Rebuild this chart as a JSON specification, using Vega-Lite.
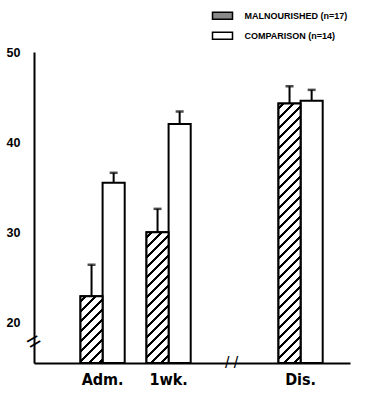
{
  "$schema": "https://vega.github.io/schema/vega-lite/v6.json",
  "autosize": {"type": "none"},
  "padding": {"left": 34, "top": 52, "right": 21, "bottom": 38},
  "width": 316,
  "height": 311,
  "background": "white",
  "config": {
    "view": {"stroke": null},
    "axis": {"grid": false, "ticks": false, "domainColor": "black", "domainWidth": 2, "title": null, "labelColor": "black"}
  },
  "datasets": {
    "bars": [
      {"time": "Adm.", "group": "MALNOURISHED (n=17)", "mean": 22.9, "upper": 26.4},
      {"time": "Adm.", "group": "COMPARISON (n=14)", "mean": 35.5, "upper": 36.6},
      {"time": "1wk.", "group": "MALNOURISHED (n=17)", "mean": 30.0, "upper": 32.6},
      {"time": "1wk.", "group": "COMPARISON (n=14)", "mean": 42.0, "upper": 43.4},
      {"time": "Dis.", "group": "MALNOURISHED (n=17)", "mean": 44.3, "upper": 46.2},
      {"time": "Dis.", "group": "COMPARISON (n=14)", "mean": 44.6, "upper": 45.8}
    ]
  },
  "layer": [
    {
      "data": {"name": "bars"},
      "mark": {"type": "bar", "stroke": "black", "strokeWidth": 2},
      "encoding": {
        "x": {
          "field": "time", "type": "nominal",
          "scale": {"domain": ["Adm.", "1wk.", "gap", "Dis."], "paddingInner": 0.33, "paddingOuter": 0.559, "align": 0.63, "round": false},
          "axis": {"labelAngle": 0, "labelExpr": "datum.value == 'gap' ? '' : datum.value", "labelFont": "DejaVu Sans Condensed, Liberation Sans", "labelFontWeight": "bold", "labelFontSize": 16, "labelPadding": 8}
        },
        "xOffset": {"field": "group", "type": "nominal", "scale": {"domain": ["MALNOURISHED (n=17)", "COMPARISON (n=14)"]}},
        "y": {"field": "mean", "type": "quantitative", "scale": {"domain": [15.5, 50], "zero": false, "nice": false},
              "axis": {"values": [20, 30, 40, 50], "labelFont": "Liberation Sans", "labelFontWeight": "bold", "labelFontSize": 12.5, "labelPadding": 14}},
        "y2": {"datum": 15.5},
        "fill": {
          "field": "group", "type": "nominal",
          "scale": {"domain": ["MALNOURISHED (n=17)", "COMPARISON (n=14)"], "range": ["#8a8a8a", "white"]},
          "legend": {"orient": "none", "legendX": 181.5, "legendY": -43.3, "title": null, "padding": 0,
            "symbolType": "M-1.6,-0.55H1.6V0.55H-1.6Z", "symbolSize": 156.25, "symbolStrokeColor": "black", "symbolStrokeWidth": 1.5,
            "labelFont": "Liberation Sans", "labelFontWeight": "bold", "labelFontSize": 9, "labelColor": "black", "labelOffset": 15, "rowPadding": 6}
        }
      }
    },
    {
      "data": {"name": "bars"},
      "transform": [{"filter": "datum.time == 'Adm.' && datum.group == 'MALNOURISHED (n=17)'"}],
      "mark": {"type": "bar", "stroke": "black", "strokeWidth": 2,
        "fill": {"gradient": "linear", "x1": 0, "y1": 0, "x2": 0.3975, "y2": 1.1997, "stops": [
          {"offset": 0.0450, "color": "#fff"}, {"offset": 0.0450, "color": "#000"}, {"offset": 0.0788, "color": "#000"}, {"offset": 0.0788, "color": "#fff"},
          {"offset": 0.1577, "color": "#fff"}, {"offset": 0.1577, "color": "#000"}, {"offset": 0.1914, "color": "#000"}, {"offset": 0.1914, "color": "#fff"},
          {"offset": 0.2703, "color": "#fff"}, {"offset": 0.2703, "color": "#000"}, {"offset": 0.3041, "color": "#000"}, {"offset": 0.3041, "color": "#fff"},
          {"offset": 0.3829, "color": "#fff"}, {"offset": 0.3829, "color": "#000"}, {"offset": 0.4167, "color": "#000"}, {"offset": 0.4167, "color": "#fff"},
          {"offset": 0.4955, "color": "#fff"}, {"offset": 0.4955, "color": "#000"}, {"offset": 0.5293, "color": "#000"}, {"offset": 0.5293, "color": "#fff"},
          {"offset": 0.6081, "color": "#fff"}, {"offset": 0.6081, "color": "#000"}, {"offset": 0.6419, "color": "#000"}, {"offset": 0.6419, "color": "#fff"},
          {"offset": 0.7207, "color": "#fff"}, {"offset": 0.7207, "color": "#000"}, {"offset": 0.7545, "color": "#000"}, {"offset": 0.7545, "color": "#fff"},
          {"offset": 0.8333, "color": "#fff"}, {"offset": 0.8333, "color": "#000"}, {"offset": 0.8671, "color": "#000"}, {"offset": 0.8671, "color": "#fff"},
          {"offset": 0.9459, "color": "#fff"}, {"offset": 0.9459, "color": "#000"}, {"offset": 0.9797, "color": "#000"}, {"offset": 0.9797, "color": "#fff"}
        ]}},
      "encoding": {"x": {"field": "time", "type": "nominal"}, "xOffset": {"field": "group", "type": "nominal"}, "y": {"field": "mean", "type": "quantitative"}, "y2": {"datum": 15.5}}
    },
    {
      "data": {"name": "bars"},
      "transform": [{"filter": "datum.time == '1wk.' && datum.group == 'MALNOURISHED (n=17)'"}],
      "mark": {"type": "bar", "stroke": "black", "strokeWidth": 2,
        "fill": {"gradient": "linear", "x1": 0, "y1": 0, "x2": 0.1922, "y2": 1.1366, "stops": [
          {"offset": 0.0262, "color": "#fff"}, {"offset": 0.0262, "color": "#000"}, {"offset": 0.0458, "color": "#000"}, {"offset": 0.0458, "color": "#fff"},
          {"offset": 0.0916, "color": "#fff"}, {"offset": 0.0916, "color": "#000"}, {"offset": 0.1113, "color": "#000"}, {"offset": 0.1113, "color": "#fff"},
          {"offset": 0.1571, "color": "#fff"}, {"offset": 0.1571, "color": "#000"}, {"offset": 0.1767, "color": "#000"}, {"offset": 0.1767, "color": "#fff"},
          {"offset": 0.2226, "color": "#fff"}, {"offset": 0.2226, "color": "#000"}, {"offset": 0.2422, "color": "#000"}, {"offset": 0.2422, "color": "#fff"},
          {"offset": 0.2880, "color": "#fff"}, {"offset": 0.2880, "color": "#000"}, {"offset": 0.3077, "color": "#000"}, {"offset": 0.3077, "color": "#fff"},
          {"offset": 0.3535, "color": "#fff"}, {"offset": 0.3535, "color": "#000"}, {"offset": 0.3731, "color": "#000"}, {"offset": 0.3731, "color": "#fff"},
          {"offset": 0.4189, "color": "#fff"}, {"offset": 0.4189, "color": "#000"}, {"offset": 0.4386, "color": "#000"}, {"offset": 0.4386, "color": "#fff"},
          {"offset": 0.4844, "color": "#fff"}, {"offset": 0.4844, "color": "#000"}, {"offset": 0.5040, "color": "#000"}, {"offset": 0.5040, "color": "#fff"},
          {"offset": 0.5498, "color": "#fff"}, {"offset": 0.5498, "color": "#000"}, {"offset": 0.5695, "color": "#000"}, {"offset": 0.5695, "color": "#fff"},
          {"offset": 0.6153, "color": "#fff"}, {"offset": 0.6153, "color": "#000"}, {"offset": 0.6349, "color": "#000"}, {"offset": 0.6349, "color": "#fff"},
          {"offset": 0.6808, "color": "#fff"}, {"offset": 0.6808, "color": "#000"}, {"offset": 0.7004, "color": "#000"}, {"offset": 0.7004, "color": "#fff"},
          {"offset": 0.7462, "color": "#fff"}, {"offset": 0.7462, "color": "#000"}, {"offset": 0.7659, "color": "#000"}, {"offset": 0.7659, "color": "#fff"},
          {"offset": 0.8117, "color": "#fff"}, {"offset": 0.8117, "color": "#000"}, {"offset": 0.8313, "color": "#000"}, {"offset": 0.8313, "color": "#fff"},
          {"offset": 0.8771, "color": "#fff"}, {"offset": 0.8771, "color": "#000"}, {"offset": 0.8968, "color": "#000"}, {"offset": 0.8968, "color": "#fff"},
          {"offset": 0.9426, "color": "#fff"}, {"offset": 0.9426, "color": "#000"}, {"offset": 0.9622, "color": "#000"}, {"offset": 0.9622, "color": "#fff"}
        ]}},
      "encoding": {"x": {"field": "time", "type": "nominal"}, "xOffset": {"field": "group", "type": "nominal"}, "y": {"field": "mean", "type": "quantitative"}, "y2": {"datum": 15.5}}
    },
    {
      "data": {"name": "bars"},
      "transform": [{"filter": "datum.time == 'Dis.' && datum.group == 'MALNOURISHED (n=17)'"}],
      "mark": {"type": "bar", "stroke": "black", "strokeWidth": 2,
        "fill": {"gradient": "linear", "x1": 0, "y1": 0, "x2": 0.0917, "y2": 1.0773, "stops": [
          {"offset": 0.0142, "color": "#fff"}, {"offset": 0.0142, "color": "#000"}, {"offset": 0.0248, "color": "#000"}, {"offset": 0.0248, "color": "#fff"},
          {"offset": 0.0497, "color": "#fff"}, {"offset": 0.0497, "color": "#000"}, {"offset": 0.0603, "color": "#000"}, {"offset": 0.0603, "color": "#fff"},
          {"offset": 0.0852, "color": "#fff"}, {"offset": 0.0852, "color": "#000"}, {"offset": 0.0958, "color": "#000"}, {"offset": 0.0958, "color": "#fff"},
          {"offset": 0.1207, "color": "#fff"}, {"offset": 0.1207, "color": "#000"}, {"offset": 0.1313, "color": "#000"}, {"offset": 0.1313, "color": "#fff"},
          {"offset": 0.1562, "color": "#fff"}, {"offset": 0.1562, "color": "#000"}, {"offset": 0.1668, "color": "#000"}, {"offset": 0.1668, "color": "#fff"},
          {"offset": 0.1917, "color": "#fff"}, {"offset": 0.1917, "color": "#000"}, {"offset": 0.2023, "color": "#000"}, {"offset": 0.2023, "color": "#fff"},
          {"offset": 0.2272, "color": "#fff"}, {"offset": 0.2272, "color": "#000"}, {"offset": 0.2378, "color": "#000"}, {"offset": 0.2378, "color": "#fff"},
          {"offset": 0.2627, "color": "#fff"}, {"offset": 0.2627, "color": "#000"}, {"offset": 0.2733, "color": "#000"}, {"offset": 0.2733, "color": "#fff"},
          {"offset": 0.2982, "color": "#fff"}, {"offset": 0.2982, "color": "#000"}, {"offset": 0.3088, "color": "#000"}, {"offset": 0.3088, "color": "#fff"},
          {"offset": 0.3337, "color": "#fff"}, {"offset": 0.3337, "color": "#000"}, {"offset": 0.3443, "color": "#000"}, {"offset": 0.3443, "color": "#fff"},
          {"offset": 0.3692, "color": "#fff"}, {"offset": 0.3692, "color": "#000"}, {"offset": 0.3798, "color": "#000"}, {"offset": 0.3798, "color": "#fff"},
          {"offset": 0.4047, "color": "#fff"}, {"offset": 0.4047, "color": "#000"}, {"offset": 0.4153, "color": "#000"}, {"offset": 0.4153, "color": "#fff"},
          {"offset": 0.4402, "color": "#fff"}, {"offset": 0.4402, "color": "#000"}, {"offset": 0.4508, "color": "#000"}, {"offset": 0.4508, "color": "#fff"},
          {"offset": 0.4756, "color": "#fff"}, {"offset": 0.4756, "color": "#000"}, {"offset": 0.4863, "color": "#000"}, {"offset": 0.4863, "color": "#fff"},
          {"offset": 0.5111, "color": "#fff"}, {"offset": 0.5111, "color": "#000"}, {"offset": 0.5218, "color": "#000"}, {"offset": 0.5218, "color": "#fff"},
          {"offset": 0.5466, "color": "#fff"}, {"offset": 0.5466, "color": "#000"}, {"offset": 0.5573, "color": "#000"}, {"offset": 0.5573, "color": "#fff"},
          {"offset": 0.5821, "color": "#fff"}, {"offset": 0.5821, "color": "#000"}, {"offset": 0.5928, "color": "#000"}, {"offset": 0.5928, "color": "#fff"},
          {"offset": 0.6176, "color": "#fff"}, {"offset": 0.6176, "color": "#000"}, {"offset": 0.6283, "color": "#000"}, {"offset": 0.6283, "color": "#fff"},
          {"offset": 0.6531, "color": "#fff"}, {"offset": 0.6531, "color": "#000"}, {"offset": 0.6638, "color": "#000"}, {"offset": 0.6638, "color": "#fff"},
          {"offset": 0.6886, "color": "#fff"}, {"offset": 0.6886, "color": "#000"}, {"offset": 0.6993, "color": "#000"}, {"offset": 0.6993, "color": "#fff"},
          {"offset": 0.7241, "color": "#fff"}, {"offset": 0.7241, "color": "#000"}, {"offset": 0.7348, "color": "#000"}, {"offset": 0.7348, "color": "#fff"},
          {"offset": 0.7596, "color": "#fff"}, {"offset": 0.7596, "color": "#000"}, {"offset": 0.7703, "color": "#000"}, {"offset": 0.7703, "color": "#fff"},
          {"offset": 0.7951, "color": "#fff"}, {"offset": 0.7951, "color": "#000"}, {"offset": 0.8058, "color": "#000"}, {"offset": 0.8058, "color": "#fff"},
          {"offset": 0.8306, "color": "#fff"}, {"offset": 0.8306, "color": "#000"}, {"offset": 0.8413, "color": "#000"}, {"offset": 0.8413, "color": "#fff"},
          {"offset": 0.8661, "color": "#fff"}, {"offset": 0.8661, "color": "#000"}, {"offset": 0.8768, "color": "#000"}, {"offset": 0.8768, "color": "#fff"},
          {"offset": 0.9016, "color": "#fff"}, {"offset": 0.9016, "color": "#000"}, {"offset": 0.9123, "color": "#000"}, {"offset": 0.9123, "color": "#fff"},
          {"offset": 0.9371, "color": "#fff"}, {"offset": 0.9371, "color": "#000"}, {"offset": 0.9477, "color": "#000"}, {"offset": 0.9477, "color": "#fff"},
          {"offset": 0.9726, "color": "#fff"}, {"offset": 0.9726, "color": "#000"}, {"offset": 0.9832, "color": "#000"}, {"offset": 0.9832, "color": "#fff"}
        ]}},
      "encoding": {"x": {"field": "time", "type": "nominal"}, "xOffset": {"field": "group", "type": "nominal"}, "y": {"field": "mean", "type": "quantitative"}, "y2": {"datum": 15.5}}
    },
    {
      "data": {"name": "bars"},
      "mark": {"type": "rule", "color": "black", "strokeWidth": 2},
      "encoding": {"x": {"field": "time", "type": "nominal"}, "xOffset": {"field": "group", "type": "nominal"}, "y": {"field": "mean", "type": "quantitative"}, "y2": {"field": "upper"}}
    },
    {
      "data": {"name": "bars"},
      "mark": {"type": "tick", "color": "black", "size": 8, "thickness": 2.5, "orient": "horizontal"},
      "encoding": {"x": {"field": "time", "type": "nominal"}, "xOffset": {"field": "group", "type": "nominal"}, "y": {"field": "upper", "type": "quantitative"}}
    },
    {
      "data": {"values": [{"t": "/  /"}]},
      "mark": {"type": "text", "font": "Liberation Sans", "fontSize": 16, "color": "black", "align": "center", "baseline": "middle", "dx": -3},
      "encoding": {"x": {"datum": "gap"}, "y": {"datum": 15.5}, "text": {"field": "t"}}
    },
    {
      "data": {"values": [{"t": "="}]},
      "mark": {"type": "text", "font": "Liberation Sans", "fontSize": 24, "color": "black", "align": "center", "baseline": "middle", "angle": -30},
      "encoding": {"x": {"value": 0}, "y": {"datum": 17.8}, "text": {"field": "t"}}
    }
  ]
}
